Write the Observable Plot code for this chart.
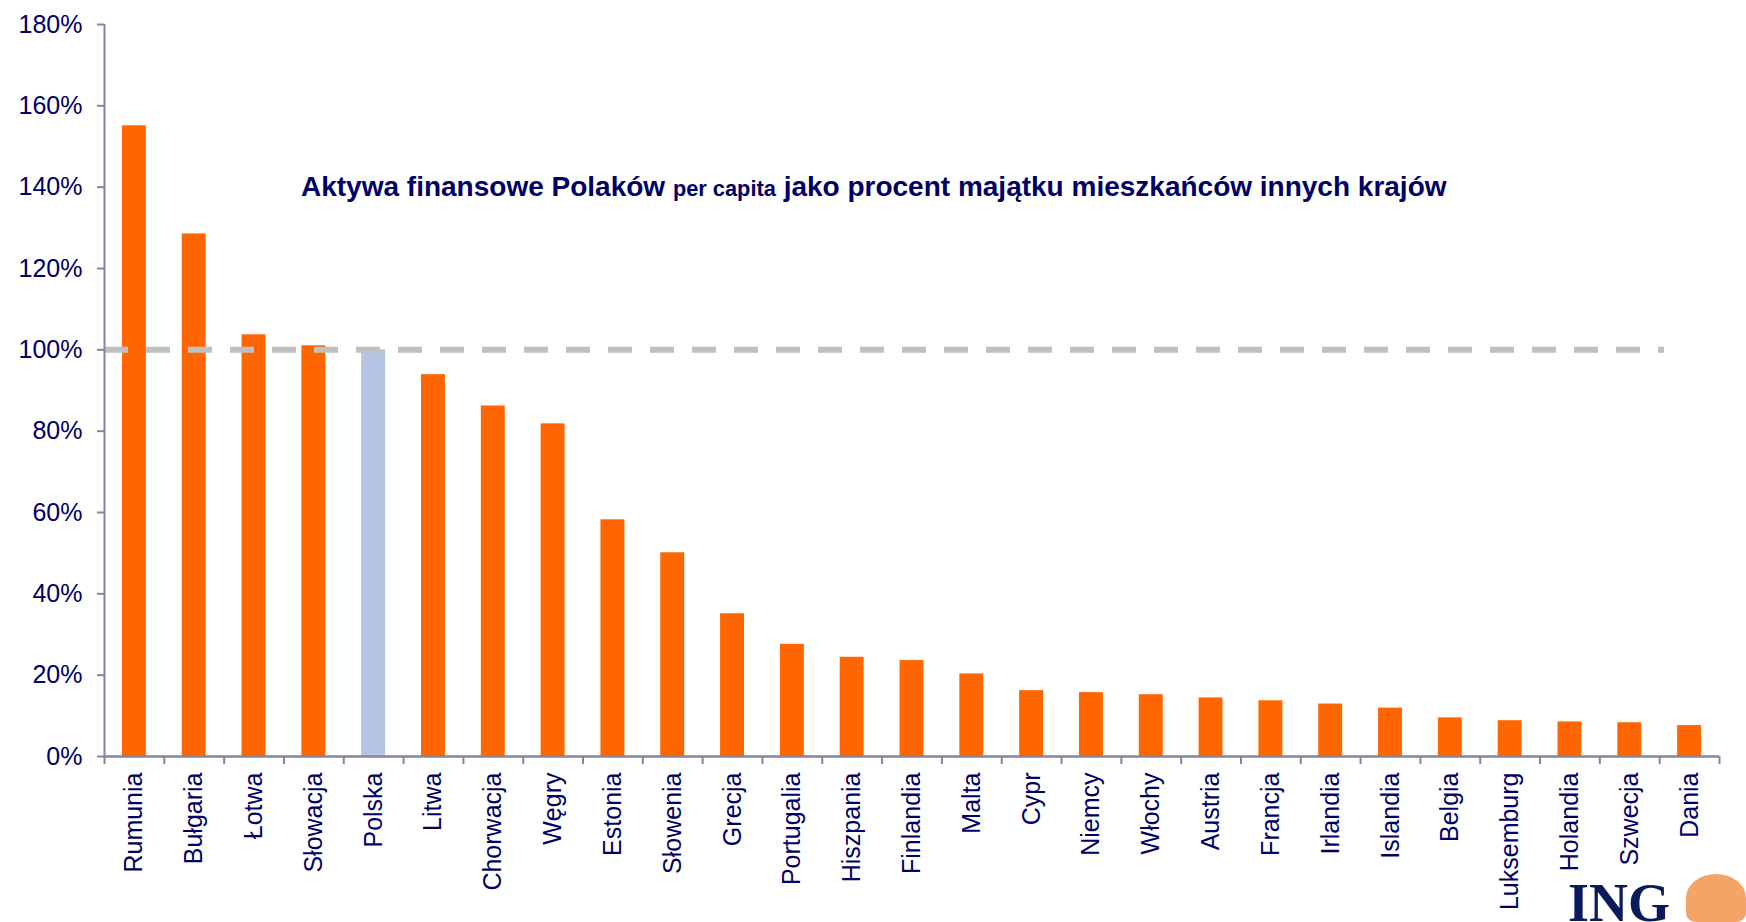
<!DOCTYPE html>
<html>
<head>
<meta charset="utf-8">
<script src="https://cdn.jsdelivr.net/npm/d3@7"></script>
<script src="https://cdn.jsdelivr.net/npm/@observablehq/plot@0.6"></script>
<style>
  html, body { margin: 0; padding: 0; background: #ffffff; overflow: hidden; }
  #wrap { position: relative; width: 1746px; height: 922px; }
  #title { position: absolute; left: 301px; top: 173px; font-family: "Liberation Sans", Arial, sans-serif; font-weight: bold; font-size: 28px; line-height: 1; color: #000066; white-space: nowrap; }
  #title .small { font-size: 21.8px; }
  #logo { position: absolute; left: 1568px; top: 876px; font-family: "Liberation Serif", "Times New Roman", serif; font-weight: bold; font-size: 54px; line-height: 1; color: #0a1a5c; }
  #lion { position: absolute; left: 1686px; top: 874px; width: 60px; height: 48px; background: #f4a466; border-radius: 50% 50% 18% 18%; }
</style>
</head>
<body>
<div id="wrap">
  <div id="chart"></div>
  <div id="title">Aktywa finansowe Polaków <span class="small">per capita</span> jako procent majątku mieszkańców innych krajów</div>
  <div id="logo">ING</div>
  <div id="lion"></div>
</div>
<script>
const countries = ["Rumunia", "Bułgaria", "Łotwa", "Słowacja", "Polska", "Litwa", "Chorwacja", "Węgry", "Estonia", "Słowenia", "Grecja", "Portugalia", "Hiszpania", "Finlandia", "Malta", "Cypr", "Niemcy", "Włochy", "Austria", "Francja", "Irlandia", "Islandia", "Belgia", "Luksemburg", "Holandia", "Szwecja", "Dania"];
const values = [155.1, 128.5, 103.7, 101.0, 100.0, 93.9, 86.2, 81.8, 58.2, 50.1, 35.1, 27.6, 24.4, 23.6, 20.3, 16.2, 15.7, 15.2, 14.4, 13.7, 12.9, 11.9, 9.5, 8.8, 8.5, 8.3, 7.6];
const highlight = "Polska";
const referenceLevel = [100];
const yTicks = [0, 20, 40, 60, 80, 100, 120, 140, 160, 180];

const data = countries.map((c, i) => ({country: c, value: values[i]}));

const W = 1746, H = 922, mL = 104, mR = 27, mT = 24, mB = 166;
const step = (W - mL - mR) / countries.length;
const navy = "#000066";
const orange = "#FF6600";
const blue = "#B4C4E2";
const axisColor = "#8585A0";

const chart = Plot.plot({
  width: W, height: H,
  marginLeft: mL, marginRight: mR, marginTop: mT, marginBottom: mB,
  style: {fontFamily: "'Liberation Sans', Arial, sans-serif", background: "white", color: navy},
  x: {domain: countries, paddingInner: 0.6, paddingOuter: 0.3, round: false, label: null, axis: null},
  y: {domain: [0, 180], label: null, axis: null},
  marks: [
    Plot.barY(data, {x: "country", y: "value", fill: d => d.country === highlight ? blue : orange}),
    Plot.ruleY(referenceLevel, {stroke: "#C0C0C0", strokeWidth: 6, strokeDasharray: "24 18", insetRight: 55}),
    Plot.ruleY([0], {stroke: axisColor, strokeWidth: 2.5}),
    Plot.ruleX([countries[0]], {dx: -step / 2, y1: 0, y2: 180, stroke: axisColor, strokeWidth: 2}),
    Plot.axisY({ticks: yTicks, tickSize: 7, tickPadding: 15, tickFormat: d => d + "%", fontSize: 25, stroke: axisColor, fill: navy, strokeWidth: 2}),
    Plot.axisX({tickSize: 8, tickFormat: () => "", dx: -step / 2, stroke: axisColor, strokeWidth: 2}),
    Plot.axisX([countries[countries.length - 1]], {tickSize: 8, tickFormat: () => "", dx: step / 2, stroke: axisColor, strokeWidth: 2}),
    Plot.axisX({tickSize: 0, tickPadding: 16, tickRotate: -90, fontSize: 25, fill: navy})
  ]
});
document.getElementById("chart").appendChild(chart);
</script>
</body>
</html>
